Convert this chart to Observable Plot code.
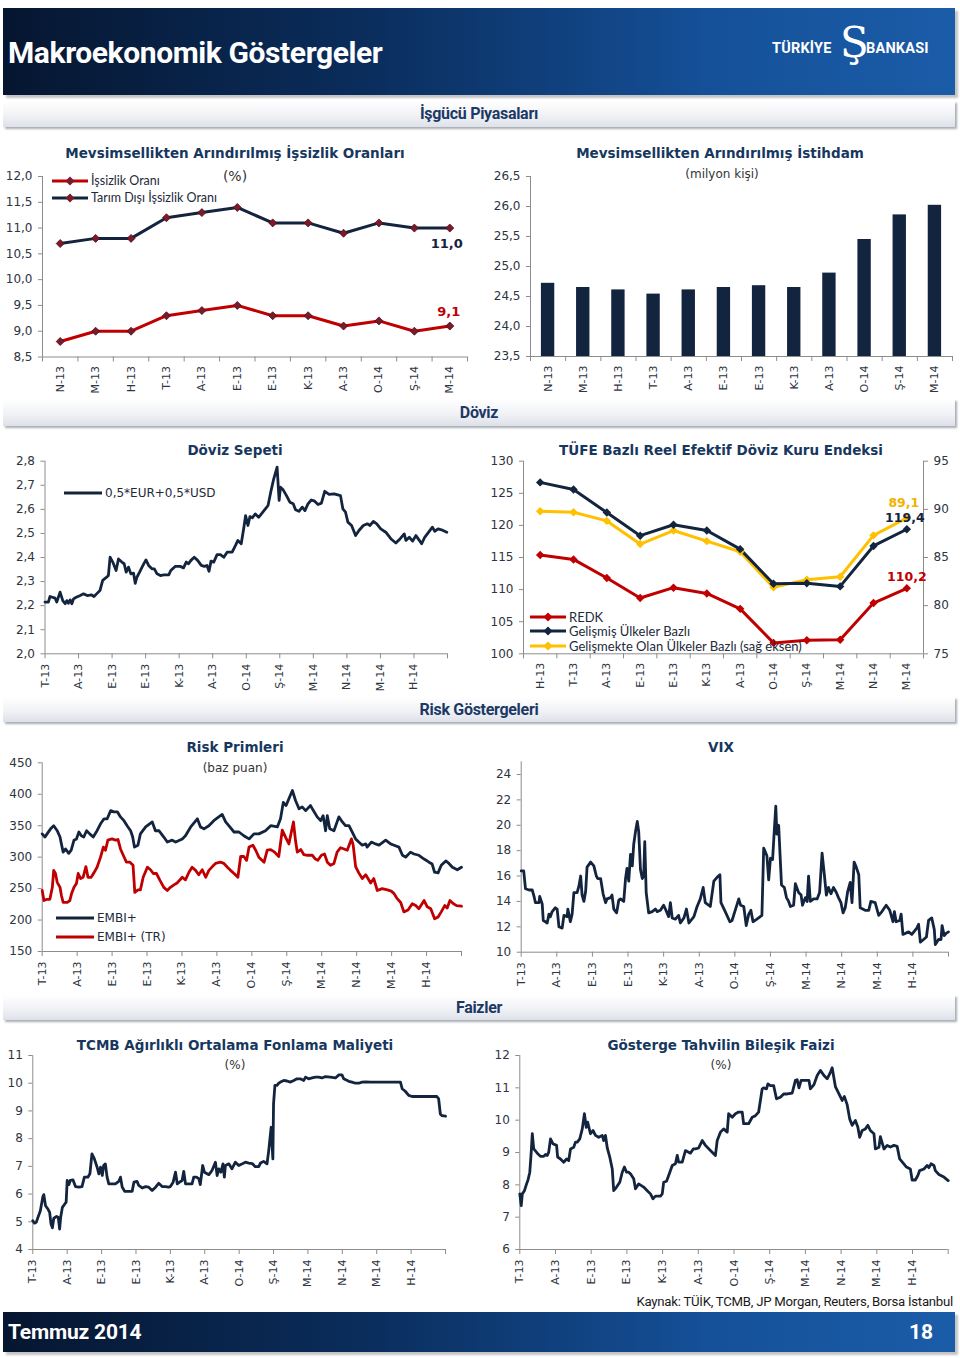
<!DOCTYPE html>
<html><head><meta charset="utf-8">
<script src="https://cdn.jsdelivr.net/npm/d3@7"></script>
<script src="https://cdn.jsdelivr.net/npm/@observablehq/plot@0.6"></script>
<style>
body{margin:0;background:#fff;}
#page{position:relative;width:960px;height:1358px;overflow:hidden;background:#fff;font-family:"DejaVu Sans",sans-serif;}
.band{position:absolute;left:3px;width:952px;}
.hdr{top:8px;height:87px;background:linear-gradient(90deg,#061630 0%,#0a2d5c 38%,#15519a 75%,#1b5ca8 100%);box-shadow:3px 3px 2px #c4c4c4;}
.ftr{top:1312px;height:40px;background:linear-gradient(90deg,#061630 0%,#0a2d5c 38%,#15519a 75%,#1b5ca8 100%);box-shadow:3px 3px 2px #c4c4c4;}
.sec{height:26px;background:linear-gradient(#ffffff 0%,#f1f2f6 55%,#dde1e8 100%);box-shadow:2px 2px 2px #a9adb5;text-align:center;font-family:Roboto,sans-serif;font-weight:700;color:#1c3966;font-size:16px;line-height:26px;letter-spacing:-0.3px;}
.t{position:absolute;transform:translateX(-50%);white-space:nowrap;font-weight:bold;color:#17375e;font-size:13.5px;line-height:16px;}
.s{position:absolute;transform:translateX(-50%);white-space:nowrap;color:#333;font-size:12px;line-height:14px;}
.lg{position:absolute;font-family:Lato,sans-serif;font-size:12.5px;color:#1e2a3a;white-space:nowrap;line-height:14px;display:flex;align-items:center;}
.lg svg{margin-right:3px;}
.wt{position:absolute;color:#fff;font-family:Roboto,sans-serif;font-weight:700;white-space:nowrap;}
</style>
</head>
<body>
<div id="page">
  <div class="band hdr"></div>
  <div class="wt" style="left:8px;top:35px;font-size:30px;letter-spacing:-0.4px;">Makroekonomik Göstergeler</div>
  <div class="wt" style="left:772px;top:40px;font-size:14.5px;letter-spacing:0.2px;">TÜRKİYE</div>
  <div class="wt" style="left:840px;top:18px;font-size:42px;font-weight:400;font-family:'DejaVu Serif',serif;">Ş</div>
  <div class="wt" style="left:866px;top:40px;font-size:14.5px;letter-spacing:0.2px;">BANKASI</div>

  <div class="band sec" style="top:101px;">İşgücü Piyasaları</div>
  <div class="band sec" style="top:399px;height:27px;line-height:27px;">Döviz</div>
  <div class="band sec" style="top:697px;height:25px;line-height:25px;">Risk Göstergeleri</div>
  <div class="band sec" style="top:995px;height:25px;line-height:25px;">Faizler</div>

  <div class="t" style="left:235px;top:145px;">Mevsimsellikten Arındırılmış İşsizlik Oranları</div>
  <div class="s" style="left:235px;top:168px;font-size:14px;line-height:16px;">(%)</div>
  <div class="t" style="left:720px;top:145px;">Mevsimsellikten Arındırılmış İstihdam</div>
  <div class="s" style="left:722px;top:167px;">(milyon kişi)</div>
  <div class="t" style="left:235px;top:442px;">Döviz Sepeti</div>
  <div class="t" style="left:721px;top:442px;">TÜFE Bazlı Reel Efektif Döviz Kuru Endeksi</div>
  <div class="t" style="left:235px;top:739px;">Risk Primleri</div>
  <div class="s" style="left:235px;top:761px;">(baz puan)</div>
  <div class="t" style="left:721px;top:739px;">VIX</div>
  <div class="t" style="left:235px;top:1037px;">TCMB Ağırlıklı Ortalama Fonlama Maliyeti</div>
  <div class="s" style="left:235px;top:1058px;">(%)</div>
  <div class="t" style="left:721px;top:1037px;">Gösterge Tahvilin Bileşik Faizi</div>
  <div class="s" style="left:721px;top:1058px;">(%)</div>

  <div style="position:absolute;right:7px;top:1294px;font-family:Roboto,sans-serif;font-size:13.2px;color:#1a1a1a;letter-spacing:-0.25px;white-space:nowrap;">Kaynak: TÜİK, TCMB, JP Morgan, Reuters, Borsa İstanbul</div>
  <div class="band ftr"></div>
  <div class="wt" style="left:8px;top:1320px;font-size:21px;letter-spacing:-0.2px;">Temmuz 2014</div>
  <div class="wt" style="left:909px;top:1320px;font-size:21px;">18</div>
</div>
<script>
// ---------- DATA ----------
const catLabels = ["N-13","M-13","H-13","T-13","A-13","E-13","E-13","K-13","A-13","O-14","Ş-14","M-14"];
const issizlikOrani = [8.8,9.0,9.0,9.3,9.4,9.5,9.3,9.3,9.1,9.2,9.0,9.1];
const tarimDisiIssizlik = [10.7,10.8,10.8,11.2,11.3,11.4,11.1,11.1,10.9,11.1,11.0,11.0];
const istihdam = [24.72,24.65,24.61,24.54,24.61,24.65,24.68,24.65,24.89,25.45,25.86,26.02];

const tufeLabels = ["H-13","T-13","A-13","E-13","E-13","K-13","A-13","O-14","Ş-14","M-14","N-14","M-14"];
const redk = [115.4,114.7,111.8,108.7,110.3,109.4,107.0,101.7,102.1,102.2,107.9,110.2];
const gelismis = [126.7,125.6,122.0,118.4,120.1,119.2,116.3,110.9,111.0,110.5,116.8,119.4];
const gelismekte = [89.8,89.7,88.8,86.4,87.8,86.7,85.6,81.9,82.7,83.0,87.3,89.1];

const dayLabels = ["T-13","A-13","E-13","E-13","K-13","A-13","O-14","Ş-14","M-14","N-14","M-14","H-14"];

// [months since start of Jul-2013, value]
const dovizSepeti = [[0,2.215],[0.10,2.215],[0.15,2.238],[0.30,2.231],[0.35,2.215],[0.45,2.256],[0.53,2.221],[0.60,2.208],[0.65,2.221],[0.70,2.210],[0.75,2.224],[0.80,2.208],[0.85,2.228],[0.93,2.235],[1.05,2.242],[1.15,2.249],[1.26,2.242],[1.39,2.245],[1.46,2.238],[1.56,2.252],[1.64,2.263],[1.72,2.305],[1.82,2.316],[1.89,2.325],[1.94,2.401],[2.02,2.381],[2.12,2.346],[2.19,2.394],[2.29,2.381],[2.36,2.374],[2.42,2.339],[2.49,2.360],[2.56,2.332],[2.64,2.335],[2.69,2.293],[2.74,2.318],[2.82,2.339],[2.92,2.367],[3.01,2.390],[3.09,2.367],[3.19,2.353],[3.26,2.353],[3.34,2.332],[3.44,2.325],[3.54,2.328],[3.69,2.328],[3.75,2.346],[3.88,2.363],[4.03,2.363],[4.13,2.357],[4.21,2.381],[4.28,2.374],[4.35,2.388],[4.45,2.401],[4.55,2.388],[4.66,2.367],[4.75,2.363],[4.83,2.367],[4.89,2.343],[4.95,2.385],[5.03,2.381],[5.13,2.412],[5.23,2.412],[5.33,2.401],[5.43,2.422],[5.58,2.422],[5.68,2.450],[5.75,2.471],[5.85,2.457],[5.93,2.526],[5.98,2.574],[6.05,2.533],[6.11,2.570],[6.18,2.565],[6.27,2.581],[6.37,2.567],[6.47,2.584],[6.57,2.602],[6.65,2.616],[6.74,2.678],[6.82,2.727],[6.92,2.775],[6.98,2.637],[7.02,2.692],[7.10,2.681],[7.20,2.657],[7.30,2.630],[7.40,2.623],[7.47,2.598],[7.57,2.592],[7.67,2.609],[7.75,2.595],[7.84,2.623],[7.94,2.639],[8.04,2.634],[8.14,2.620],[8.24,2.626],[8.34,2.675],[8.47,2.662],[8.62,2.664],[8.81,2.657],[8.88,2.602],[8.96,2.588],[9.03,2.547],[9.14,2.533],[9.26,2.491],[9.36,2.512],[9.49,2.533],[9.61,2.540],[9.69,2.533],[9.79,2.550],[9.89,2.540],[10.01,2.519],[10.16,2.505],[10.31,2.478],[10.46,2.460],[10.59,2.478],[10.71,2.498],[10.76,2.471],[10.86,2.484],[10.96,2.468],[11.06,2.491],[11.16,2.471],[11.23,2.457],[11.32,2.484],[11.55,2.526],[11.62,2.509],[11.72,2.519],[11.82,2.515],[11.98,2.505]];

const embi = [[0,337],[0.08,332],[0.14,337],[0.24,345],[0.33,350],[0.43,342],[0.51,332],[0.55,321],[0.60,308],[0.67,313],[0.76,306],[0.83,311],[0.91,327],[0.98,329],[1.05,340],[1.12,334],[1.19,332],[1.27,342],[1.36,337],[1.46,332],[1.57,342],[1.67,353],[1.77,361],[1.86,361],[1.96,374],[2.05,372],[2.15,372],[2.24,364],[2.34,358],[2.43,350],[2.53,342],[2.59,332],[2.64,316],[2.74,319],[2.81,337],[2.96,348],[3.15,356],[3.24,342],[3.34,342],[3.48,332],[3.58,324],[3.72,327],[3.82,324],[4.01,329],[4.10,334],[4.25,348],[4.44,361],[4.53,348],[4.63,345],[4.77,350],[4.91,358],[5.15,368],[5.25,356],[5.34,350],[5.49,340],[5.63,340],[5.77,334],[5.92,329],[6.06,337],[6.20,337],[6.39,342],[6.54,350],[6.73,348],[6.82,361],[6.90,387],[6.98,382],[7.06,393],[7.16,406],[7.25,390],[7.35,377],[7.44,380],[7.54,374],[7.68,382],[7.76,374],[7.87,364],[7.97,358],[8.04,366],[8.11,342],[8.16,366],[8.23,345],[8.35,342],[8.49,364],[8.59,356],[8.68,350],[8.78,350],[8.87,340],[8.97,329],[9.06,324],[9.16,319],[9.26,321],[9.30,316],[9.42,324],[9.54,321],[9.64,319],[9.83,327],[9.97,321],[10.07,319],[10.21,316],[10.31,303],[10.40,300],[10.54,308],[10.64,305],[10.78,303],[10.93,297],[11.07,292],[11.16,289],[11.23,276],[11.33,275],[11.42,287],[11.55,294],[11.64,290],[11.74,284],[11.88,280],[12.00,284]];

const embiTR = [[0,247],[0.05,231],[0.14,233],[0.22,233],[0.29,252],[0.33,279],[0.38,274],[0.43,260],[0.51,252],[0.55,239],[0.60,228],[0.72,228],[0.79,231],[0.84,242],[0.91,252],[0.98,258],[1.03,274],[1.10,266],[1.17,268],[1.25,285],[1.31,268],[1.40,268],[1.48,275],[1.57,284],[1.67,300],[1.75,316],[1.81,311],[1.88,327],[2.00,329],[2.10,327],[2.17,328],[2.24,313],[2.32,303],[2.41,292],[2.51,292],[2.60,287],[2.65,244],[2.74,248],[2.81,248],[2.89,268],[3.01,284],[3.10,280],[3.18,274],[3.27,274],[3.37,263],[3.48,252],[3.58,247],[3.67,252],[3.77,256],[3.86,259],[4.01,268],[4.10,264],[4.20,276],[4.29,284],[4.39,279],[4.48,272],[4.58,280],[4.68,268],[4.77,279],[4.87,285],[4.96,290],[5.10,292],[5.20,290],[5.30,284],[5.39,279],[5.49,274],[5.60,268],[5.68,301],[5.77,301],[5.85,295],[5.92,316],[6.03,319],[6.11,311],[6.20,300],[6.35,292],[6.44,311],[6.54,312],[6.65,308],[6.77,301],[6.87,343],[6.97,331],[7.06,321],[7.19,356],[7.25,326],[7.30,308],[7.40,312],[7.49,304],[7.59,303],[7.73,303],[7.82,297],[7.89,295],[7.99,303],[8.08,305],[8.16,292],[8.25,287],[8.35,290],[8.44,308],[8.54,315],[8.64,313],[8.73,311],[8.85,329],[8.90,319],[8.97,285],[9.06,275],[9.16,266],[9.26,272],[9.40,259],[9.49,266],[9.59,247],[9.73,250],[9.88,248],[9.99,246],[10.07,242],[10.16,234],[10.26,228],[10.35,213],[10.47,216],[10.59,226],[10.69,223],[10.78,218],[10.93,231],[11.02,221],[11.12,218],[11.23,202],[11.33,205],[11.42,213],[11.52,223],[11.59,219],[11.67,231],[11.77,226],[11.86,223],[12.00,222]];

const vix = [[0,16.4],[0.07,16.4],[0.12,15.0],[0.22,14.9],[0.31,14.9],[0.36,14.4],[0.40,13.9],[0.50,13.9],[0.52,14.4],[0.59,13.8],[0.62,12.5],[0.68,12.4],[0.73,12.3],[0.78,13.0],[0.82,12.8],[0.87,13.2],[0.96,13.5],[1.01,13.4],[1.06,12.0],[1.15,11.9],[1.20,12.9],[1.29,12.8],[1.31,13.4],[1.38,12.4],[1.43,13.0],[1.48,14.7],[1.57,14.7],[1.62,15.2],[1.67,16.0],[1.71,14.5],[1.76,14.0],[1.81,14.8],[1.85,16.7],[1.95,17.1],[2.04,16.8],[2.11,16.0],[2.15,15.8],[2.23,15.8],[2.30,14.6],[2.37,13.9],[2.41,14.2],[2.51,14.3],[2.55,14.5],[2.60,13.4],[2.68,13.1],[2.74,14.1],[2.79,14.2],[2.88,14.0],[2.93,15.8],[2.97,16.6],[3.02,15.6],[3.07,17.7],[3.12,16.8],[3.16,18.5],[3.21,19.5],[3.26,20.3],[3.30,19.5],[3.35,16.5],[3.40,15.8],[3.44,16.0],[3.47,18.7],[3.51,14.7],[3.58,13.1],[3.68,13.2],[3.77,13.4],[3.82,13.2],[3.91,13.3],[4.00,13.7],[4.05,13.4],[4.14,12.8],[4.19,13.9],[4.24,12.7],[4.33,12.6],[4.42,12.9],[4.47,12.3],[4.57,12.7],[4.64,13.4],[4.71,12.3],[4.85,12.8],[4.94,13.6],[5.03,14.2],[5.11,15.1],[5.17,13.9],[5.31,13.6],[5.41,15.6],[5.50,15.9],[5.58,16.1],[5.61,13.9],[5.73,13.2],[5.86,12.4],[5.92,12.5],[6.01,13.3],[6.11,14.2],[6.16,13.7],[6.25,13.6],[6.32,12.1],[6.39,13.0],[6.45,13.3],[6.51,12.4],[6.62,12.6],[6.76,12.9],[6.81,18.2],[6.90,17.6],[6.95,15.7],[7.00,17.4],[7.06,17.3],[7.11,19.7],[7.15,21.5],[7.18,19.3],[7.23,20.0],[7.31,15.3],[7.39,15.1],[7.45,14.3],[7.51,14.0],[7.56,13.6],[7.65,13.7],[7.70,15.4],[7.79,14.7],[7.86,14.5],[7.90,13.7],[7.98,14.3],[8.03,14.0],[8.07,16.0],[8.12,14.0],[8.21,14.2],[8.31,14.2],[8.38,14.7],[8.45,17.8],[8.51,16.2],[8.57,14.5],[8.63,15.1],[8.70,14.6],[8.77,15.1],[8.85,14.7],[8.91,14.3],[8.98,13.9],[9.04,13.1],[9.10,13.5],[9.17,14.8],[9.24,15.5],[9.29,13.9],[9.35,17.1],[9.41,16.7],[9.48,16.1],[9.52,13.5],[9.66,13.3],[9.76,13.3],[9.82,14.0],[9.94,13.9],[10.04,12.9],[10.13,13.2],[10.25,13.7],[10.35,13.3],[10.44,12.4],[10.48,13.2],[10.53,12.4],[10.63,12.5],[10.67,13.0],[10.72,11.4],[10.88,11.6],[10.97,11.4],[11.11,11.9],[11.16,12.2],[11.21,10.8],[11.30,11.0],[11.38,11.2],[11.44,12.5],[11.53,12.7],[11.60,11.8],[11.63,10.6],[11.72,11.0],[11.79,11.0],[11.82,12.1],[11.88,11.3],[11.94,11.5],[12.00,11.6]];

const tcmb = [[0,5.04],[0.05,4.95],[0.10,4.98],[0.15,5.16],[0.22,5.40],[0.29,5.89],[0.32,5.98],[0.37,5.58],[0.44,5.46],[0.49,5.34],[0.53,4.92],[0.57,4.78],[0.61,5.13],[0.69,5.19],[0.74,5.16],[0.78,4.74],[0.81,5.16],[0.86,5.52],[0.93,5.64],[0.97,5.71],[1.00,6.49],[1.05,6.34],[1.09,6.49],[1.17,6.51],[1.24,6.27],[1.34,6.25],[1.43,6.27],[1.50,6.61],[1.60,6.61],[1.66,6.73],[1.72,7.45],[1.79,7.27],[1.87,6.97],[1.92,6.73],[1.97,6.97],[2.02,6.67],[2.06,7.03],[2.11,7.09],[2.16,6.61],[2.21,6.37],[2.31,6.37],[2.40,6.37],[2.50,6.46],[2.55,6.61],[2.60,6.25],[2.67,6.10],[2.79,6.10],[2.89,6.10],[2.94,6.43],[3.03,6.46],[3.08,6.31],[3.18,6.22],[3.28,6.27],[3.37,6.25],[3.47,6.13],[3.57,6.25],[3.66,6.39],[3.76,6.27],[3.86,6.27],[3.95,6.25],[4.00,6.27],[4.08,6.43],[4.15,6.79],[4.20,6.37],[4.27,6.43],[4.34,6.49],[4.39,6.82],[4.44,6.37],[4.53,6.37],[4.63,6.37],[4.68,6.61],[4.76,6.61],[4.83,6.55],[4.87,6.34],[4.94,7.03],[4.99,6.79],[5.12,6.70],[5.21,6.85],[5.31,7.15],[5.36,6.67],[5.41,6.91],[5.47,6.79],[5.53,7.09],[5.57,6.61],[5.60,7.03],[5.70,7.09],[5.79,6.91],[5.89,7.15],[5.99,7.03],[6.09,7.09],[6.18,7.15],[6.28,7.12],[6.38,7.10],[6.47,6.99],[6.57,6.99],[6.62,7.12],[6.71,7.18],[6.81,7.09],[6.86,7.57],[6.93,8.41],[6.98,7.27],[7.00,9.26],[7.04,9.92],[7.10,9.92],[7.15,10.0],[7.20,10.04],[7.30,10.1],[7.39,10.08],[7.49,10.04],[7.59,10.1],[7.68,10.16],[7.78,10.16],[7.88,10.1],[7.93,10.22],[8.02,10.16],[8.12,10.19],[8.22,10.22],[8.31,10.22],[8.41,10.19],[8.51,10.24],[8.65,10.22],[8.80,10.19],[8.90,10.30],[8.99,10.30],[9.04,10.16],[9.19,10.07],[9.28,10.04],[9.38,10.0],[9.48,10.0],[9.57,10.04],[9.67,10.05],[9.82,10.04],[9.96,10.04],[10.11,10.04],[10.30,10.04],[10.45,10.04],[10.59,10.04],[10.69,10.04],[10.74,9.80],[10.83,9.71],[10.93,9.56],[11.03,9.52],[11.17,9.52],[11.37,9.52],[11.56,9.52],[11.75,9.52],[11.80,9.44],[11.85,8.89],[11.90,8.83],[12.00,8.81]];

const tahvil = [[0,7.72],[0.04,7.36],[0.07,7.72],[0.13,7.82],[0.19,8.03],[0.23,8.15],[0.28,8.39],[0.32,9.01],[0.35,9.58],[0.39,9.11],[0.49,8.98],[0.58,8.88],[0.67,8.88],[0.72,8.94],[0.77,8.91],[0.81,9.01],[0.86,9.42],[0.93,9.27],[1.03,9.22],[1.06,8.86],[1.14,8.80],[1.23,8.70],[1.31,8.80],[1.37,8.75],[1.42,9.11],[1.51,9.16],[1.56,9.32],[1.61,9.32],[1.68,9.42],[1.75,9.73],[1.81,10.2],[1.86,9.78],[1.90,9.94],[1.98,9.58],[2.05,9.68],[2.12,9.53],[2.21,9.47],[2.31,9.53],[2.35,9.37],[2.40,9.53],[2.45,9.14],[2.52,8.86],[2.59,8.49],[2.63,7.82],[2.71,7.93],[2.80,8.08],[2.87,8.39],[2.93,8.55],[2.99,8.39],[3.05,8.39],[3.10,8.34],[3.19,8.19],[3.24,7.88],[3.33,8.03],[3.47,7.93],[3.57,7.82],[3.66,7.72],[3.73,7.57],[3.80,7.65],[3.94,7.65],[3.99,7.72],[4.03,8.08],[4.11,8.11],[4.17,8.29],[4.27,8.60],[4.36,8.65],[4.41,8.91],[4.45,8.70],[4.55,8.70],[4.64,9.06],[4.73,9.01],[4.78,8.98],[4.86,9.11],[4.92,9.11],[5.01,9.14],[5.11,9.37],[5.20,9.22],[5.34,9.06],[5.48,8.91],[5.53,9.37],[5.62,9.63],[5.71,9.73],[5.81,9.63],[5.85,10.2],[5.95,10.09],[6.04,10.2],[6.13,10.25],[6.23,10.25],[6.27,9.89],[6.41,9.89],[6.51,10.09],[6.60,10.14],[6.69,10.25],[6.79,10.97],[6.83,11.0],[6.91,10.97],[6.95,11.12],[7.02,11.07],[7.11,11.07],[7.19,10.66],[7.30,10.71],[7.39,10.81],[7.49,10.81],[7.63,10.84],[7.72,11.23],[7.77,11.25],[7.82,11.0],[7.88,11.23],[8.00,11.23],[8.10,11.23],[8.14,10.97],[8.24,11.1],[8.33,11.38],[8.42,11.54],[8.52,11.38],[8.61,11.28],[8.70,11.48],[8.75,11.62],[8.84,11.04],[8.94,10.81],[9.03,10.61],[9.09,10.73],[9.17,10.48],[9.24,10.04],[9.31,9.84],[9.40,9.99],[9.47,9.78],[9.52,9.47],[9.59,9.68],[9.68,9.73],[9.75,9.84],[9.82,9.68],[9.92,9.58],[9.96,9.11],[10.06,9.16],[10.10,9.49],[10.20,9.11],[10.29,9.22],[10.38,9.17],[10.48,9.22],[10.57,9.19],[10.64,8.80],[10.74,8.67],[10.83,8.55],[10.94,8.49],[10.99,8.15],[11.08,8.15],[11.15,8.29],[11.20,8.44],[11.32,8.49],[11.41,8.60],[11.46,8.53],[11.52,8.65],[11.60,8.60],[11.64,8.44],[11.74,8.32],[11.88,8.24],[12.00,8.13]];

// ---------- HELPERS ----------
const page = document.getElementById("page");
const NAVY = "#13243f", RED = "#c00000", YEL = "#ffc000", MAROON = "#7a1a2b", GRAY = "#8c8c8c", TXT = "#2e3440";
const LW = 2.8;
const comma1 = d => d.toFixed(1).replace(".", ",");
const baseStyle = {fontFamily: "DejaVu Sans, sans-serif", fontSize: "12px", color: TXT, background: "transparent", overflow: "visible"};

function place(node, left, top) {
  node.style.position = "absolute";
  node.style.left = left + "px";
  node.style.top = top + "px";
  page.appendChild(node);
}
const yAxis = (ticks, fmt, extra = {}) =>
  Plot.axisY({ticks, tickFormat: fmt, tickSize: 4, tickPadding: 6, stroke: GRAY, fill: TXT, fontSize: 12, label: null, ...extra});
const catX = (labels) => [
  Plot.axisX({ticks: d3.range(labels.length + 1), tickFormat: () => "", tickSize: 5, stroke: GRAY, label: null}),
  Plot.axisX({ticks: labels.map((_, i) => i + 0.5), tickFormat: t => labels[Math.floor(t)], tickSize: 0, tickPadding: 9,
              tickRotate: -90, textAnchor: "end", fill: TXT, fontSize: 11, label: null})
];
const dayX = (labels) => [
  Plot.axisX({ticks: d3.range(labels.length + 1), tickFormat: () => "", tickSize: 5, stroke: GRAY, label: null}),
  Plot.axisX({ticks: d3.range(labels.length), tickFormat: t => labels[t], tickSize: 0, tickPadding: 10,
              tickRotate: -90, textAnchor: "end", fill: TXT, fontSize: 11, label: null})
];
const frameLines = (xmin, ymin) => [Plot.ruleX([xmin], {stroke: GRAY}), Plot.ruleY([ymin], {stroke: GRAY})];

function legend(items, left, top, gap, w = 36, font = {}) {
  items.forEach((it, k) => {
    const d = document.createElement("div");
    d.className = "lg";
    Object.assign(d.style, font);
    const mk = it.marker ? `<path d="M${w/2} ${7-4.5} L${w/2+4.5} 7 L${w/2} ${7+4.5} L${w/2-4.5} 7 Z" fill="${it.marker}"/>` : "";
    d.innerHTML = `<svg width="${w}" height="14"><line x1="0" x2="${w}" y1="7" y2="7" stroke="${it.color}" stroke-width="3"/>${mk}</svg><span>${it.label}</span>`;
    place(d, left, top + k * gap);
  });
}

// ---------- 1: İşsizlik ----------
{
  const rows = catLabels.map((c, i) => ({i, x: i + 0.5, a: issizlikOrani[i], b: tarimDisiIssizlik[i]}));
  const last = rows[rows.length - 1];
  const p = Plot.plot({
    width: 480, height: 262, marginLeft: 42, marginRight: 13, marginTop: 36, marginBottom: 45.5,
    style: baseStyle,
    x: {domain: [0, 12]}, y: {domain: [8.5, 12]},
    marks: [
      yAxis(d3.range(8.5, 12.01, 0.5), comma1),
      ...catX(catLabels),
      ...frameLines(0, 8.5),
      Plot.line(rows, {x: "x", y: "b", stroke: NAVY, strokeWidth: 3}),
      Plot.line(rows, {x: "x", y: "a", stroke: RED, strokeWidth: 3}),
      Plot.dot(rows, {x: "x", y: "b", symbol: "diamond2", r: 3.6, fill: MAROON, stroke: "#4d0d18", strokeWidth: 0.8}),
      Plot.dot(rows, {x: "x", y: "a", symbol: "diamond2", r: 3.6, fill: MAROON, stroke: "#4d0d18", strokeWidth: 0.8}),
      Plot.text([last], {x: "x", y: "b", text: d => comma1(d.b), dy: 16, dx: -3, fill: NAVY, fontWeight: "bold", fontSize: 13}),
      Plot.text([last], {x: "x", y: "a", text: d => comma1(d.a), dy: -14, dx: -1, fill: RED, fontWeight: "bold", fontSize: 13})
    ]
  });
  place(p, 0, 140);
  legend([{color: RED, marker: MAROON, label: "İşsizlik Oranı"}, {color: NAVY, marker: MAROON, label: "Tarım Dışı İşsizlik Oranı"}], 52, 174, 17, 36);
}

// ---------- 2: İstihdam ----------
{
  const rows = catLabels.map((c, i) => ({i, v: istihdam[i]}));
  const p = Plot.plot({
    width: 480, height: 262, marginLeft: 50, marginRight: 8, marginTop: 36, marginBottom: 46,
    style: baseStyle,
    x: {domain: [0, 12]}, y: {domain: [23.5, 26.5]},
    marks: [
      yAxis(d3.range(23.5, 26.51, 0.5), comma1),
      ...catX(catLabels),
      Plot.rect(rows, {x1: d => d.i + 0.31, x2: d => d.i + 0.69, y1: 23.5, y2: "v", fill: NAVY}),
      ...frameLines(0, 23.5)
    ]
  });
  place(p, 480, 140);
}

// ---------- 3: Döviz Sepeti ----------
{
  const p = Plot.plot({
    width: 480, height: 260, marginLeft: 44.5, marginRight: 33, marginTop: 20.7, marginBottom: 46.7,
    style: baseStyle,
    x: {domain: [0, 12]}, y: {domain: [2.0, 2.8]},
    marks: [
      yAxis(d3.range(2.0, 2.801, 0.1), comma1),
      ...dayX(dayLabels),
      ...frameLines(0, 2.0),
      Plot.line(dovizSepeti, {x: d => d[0], y: d => d[1], stroke: NAVY, strokeWidth: LW})
    ]
  });
  place(p, 0, 440);
  legend([{color: NAVY, label: "0,5*EUR+0,5*USD"}], 64, 486, 0, 38, {fontFamily: "DejaVu Sans", fontSize: "12px"});
}

// ---------- 4: TÜFE REDK ----------
{
  const toLeft = r => 100 + (r - 75) * 1.5;
  const fromLeft = l => 75 + (l - 100) / 1.5;
  const rows = tufeLabels.map((c, i) => ({x: i + 0.5, r: redk[i], g: gelismis[i], e: toLeft(gelismekte[i]), ev: gelismekte[i]}));
  const last = rows[rows.length - 1];
  const p = Plot.plot({
    width: 480, height: 260, marginLeft: 43, marginRight: 37, marginTop: 20.7, marginBottom: 46.7,
    style: baseStyle,
    x: {domain: [0, 12]}, y: {domain: [100, 130]},
    marks: [
      yAxis(d3.range(100, 131, 5), d => d),
      yAxis([75, 80, 85, 90, 95].map(toLeft), d => Math.round(fromLeft(d)), {anchor: "right"}),
      ...catX(tufeLabels),
      ...frameLines(0, 100),
      Plot.ruleX([12], {stroke: GRAY}),
      Plot.line(rows, {x: "x", y: "r", stroke: RED, strokeWidth: 3}),
      Plot.line(rows, {x: "x", y: "e", stroke: YEL, strokeWidth: 3}),
      Plot.line(rows, {x: "x", y: "g", stroke: NAVY, strokeWidth: 3}),
      Plot.dot(rows, {x: "x", y: "r", symbol: "diamond2", r: 3.8, fill: RED}),
      Plot.dot(rows, {x: "x", y: "e", symbol: "diamond2", r: 3.8, fill: YEL}),
      Plot.dot(rows, {x: "x", y: "g", symbol: "diamond2", r: 3.8, fill: NAVY}),
      Plot.text([last], {x: "x", y: "e", text: d => comma1(d.ev), dy: -15, dx: -3, fill: "#f2b200", fontWeight: "bold", fontSize: 12.5}),
      Plot.text([last], {x: "x", y: "g", text: d => comma1(d.g), dy: -11, dx: -2, fill: NAVY, fontWeight: "bold", fontSize: 12.5}),
      Plot.text([last], {x: "x", y: "r", text: d => comma1(d.r), dy: -11, dx: 0, fill: RED, fontWeight: "bold", fontSize: 12.5})
    ]
  });
  place(p, 480, 440);
  legend([{color: RED, marker: RED, label: "REDK"}, {color: NAVY, marker: NAVY, label: "Gelişmiş Ülkeler Bazlı"},
          {color: YEL, marker: YEL, label: "Gelişmekte Olan Ülkeler Bazlı (sağ eksen)"}], 530, 610, 14.3, 36, {fontSize: "13px"});
}

// ---------- 5: Risk Primleri ----------
{
  const p = Plot.plot({
    width: 480, height: 270, marginLeft: 41.7, marginRight: 19, marginTop: 32.3, marginBottom: 49,
    style: baseStyle,
    x: {domain: [0, 12]}, y: {domain: [150, 450]},
    marks: [
      yAxis(d3.range(150, 451, 50), d => d),
      ...dayX(dayLabels),
      ...frameLines(0, 150),
      Plot.line(embi, {x: d => d[0], y: d => d[1], stroke: NAVY, strokeWidth: LW}),
      Plot.line(embiTR, {x: d => d[0], y: d => d[1], stroke: RED, strokeWidth: LW})
    ]
  });
  place(p, 0, 730);
  legend([{color: NAVY, label: "EMBI+"}, {color: RED, label: "EMBI+ (TR)"}], 56, 911, 19, 38, {fontFamily: "DejaVu Sans", fontSize: "12px"});
}

// ---------- 6: VIX ----------
{
  const p = Plot.plot({
    width: 480, height: 270, marginLeft: 40.7, marginRight: 12, marginTop: 31.3, marginBottom: 48.3,
    style: baseStyle,
    x: {domain: [0, 12]}, y: {domain: [10, 25]},
    marks: [
      yAxis(d3.range(10, 25, 2), d => d),
      ...dayX(dayLabels),
      ...frameLines(0, 10),
      Plot.line(vix, {x: d => d[0], y: d => d[1], stroke: NAVY, strokeWidth: LW})
    ]
  });
  place(p, 480, 730);
}

// ---------- 7: TCMB ----------
{
  const p = Plot.plot({
    width: 480, height: 260, marginLeft: 32.3, marginRight: 35, marginTop: 25, marginBottom: 41,
    style: baseStyle,
    x: {domain: [0, 12]}, y: {domain: [4, 11]},
    marks: [
      yAxis(d3.range(4, 12, 1), d => d),
      ...dayX(dayLabels),
      ...frameLines(0, 4),
      Plot.line(tcmb, {x: d => d[0], y: d => d[1], stroke: NAVY, strokeWidth: LW})
    ]
  });
  place(p, 0, 1030);
}

// ---------- 8: Tahvil ----------
{
  const p = Plot.plot({
    width: 480, height: 260, marginLeft: 39.3, marginRight: 12.3, marginTop: 25, marginBottom: 41,
    style: baseStyle,
    x: {domain: [0, 12]}, y: {domain: [6, 12]},
    marks: [
      yAxis(d3.range(6, 13, 1), d => d),
      ...dayX(dayLabels),
      ...frameLines(0, 6),
      Plot.line(tahvil, {x: d => d[0], y: d => d[1], stroke: NAVY, strokeWidth: LW})
    ]
  });
  place(p, 480, 1030);
}
</script>
</body></html>
